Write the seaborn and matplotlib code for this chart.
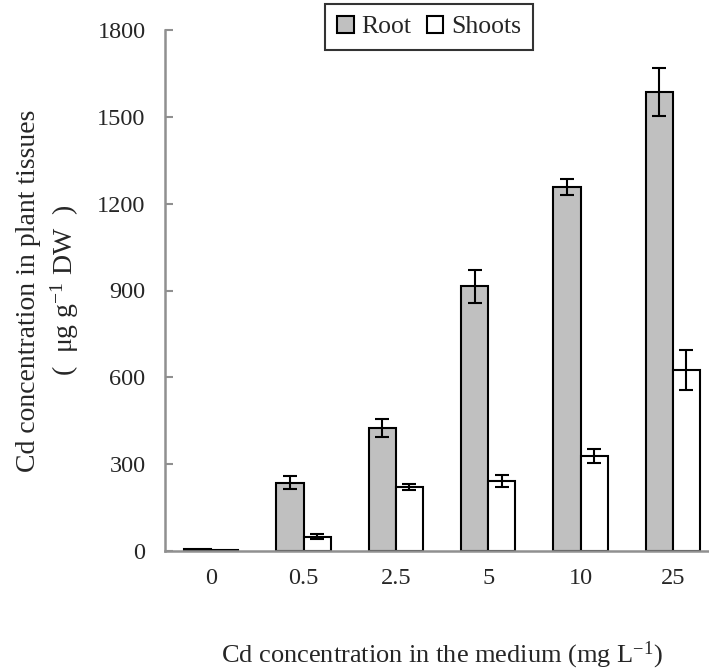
import matplotlib
matplotlib.use("Agg")
import matplotlib.pyplot as plt
import seaborn as sns
import pandas as pd
import numpy as np

categories = ["0", "0.5", "2.5", "5", "10", "25"]
series = ["Root", "Shoots"]
root_values = [8, 236, 425, 915, 1258, 1585]
root_errors = [0, 22, 31, 57, 27, 82]
shoots_values = [2, 50, 220, 243, 327, 625]
shoots_errors = [0, 10, 10, 21, 24, 68]
y_ticks = [0, 300, 600, 900, 1200, 1500, 1800]

df = pd.DataFrame({
    "conc": categories * 2,
    "tissue": [series[0]] * len(categories) + [series[1]] * len(categories),
    "value": root_values + shoots_values,
})
errors = {series[0]: root_errors, series[1]: shoots_errors}

sns.set_theme(style="white")
plt.rcParams['font.family'] = ['Liberation Serif', 'DejaVu Serif']
plt.rcParams['mathtext.fontset'] = 'custom'
plt.rcParams['mathtext.rm'] = 'Liberation Serif'
plt.rcParams['mathtext.default'] = 'regular'

fig = plt.figure(figsize=(7.09, 6.70), dpi=100)
ax = fig.add_axes([165 / 709, 1 - 551 / 670, (719 - 165) / 709, (551 - 30) / 670])

sns.barplot(data=df, x="conc", y="value", hue="tissue", order=categories,
            hue_order=series, palette={"Root": "#C0C0C0", "Shoots": "white"},
            saturation=1, width=0.585, edgecolor="black", linewidth=1.5,
            errorbar=None, ax=ax)

for cont, name in zip(ax.containers, series):
    for bar, err in zip(cont, errors[name]):
        if err <= 0:
            continue
        x = bar.get_x() + bar.get_width() / 2
        ax.errorbar(x, bar.get_height(), yerr=err, fmt="none", ecolor="black",
                    elinewidth=1.5, capsize=5, capthick=1.5, zorder=5)

ax.set_xlim(-0.5, 5.5)
ax.set_ylim(0, 1800)
ax.set_yticks(y_ticks)
ax.set_yticklabels([str(t) for t in y_ticks], fontsize=17.5)

# category boundaries as ticks, labels at category centres
ax.set_xticks(np.arange(0.5, len(categories) - 0.5, 1.0))
ax.set_xticklabels([])
ax.set_xticks(np.arange(len(categories)), minor=True)
ax.set_xticklabels(categories, minor=True, fontsize=17.5)
ax.tick_params(axis="x", which="major", direction="in", length=6, width=1.5,
               color="#909090")
ax.tick_params(axis="x", which="minor", length=0, pad=12)
ax.tick_params(axis="y", direction="in", length=6, width=1.5, color="#909090",
               pad=14, left=True)

for side in ["top", "right"]:
    ax.spines[side].set_visible(False)
for side in ["left", "bottom"]:
    ax.spines[side].set_color("#909090")
    ax.spines[side].set_linewidth(1.8)

ax.set_xlabel("Cd concentration in the medium (mg L$^{-1}$)", fontsize=19,
              labelpad=37)
ax.set_ylabel("Cd concentration in plant tissues\n(  μg g$^{-1}$ DW  )",
              fontsize=20, labelpad=12, linespacing=1.3)

handles, labels = ax.get_legend_handles_labels()
ax.get_legend().remove()
leg = ax.legend(handles, labels, loc="upper center",
                bbox_to_anchor=(429 / 709, 1 - 4 / 670),
                bbox_transform=fig.transFigure, ncol=2, fontsize=18.5,
                frameon=True, fancybox=False, edgecolor="black",
                handlelength=0.65, handleheight=0.65, handletextpad=0.3,
                columnspacing=0.6, borderpad=0.45, borderaxespad=0)
leg.get_frame().set_linewidth(1.5)
for h in leg.legend_handles:
    h.set_edgecolor("black")
    h.set_linewidth(1.5)

fig.savefig("out.png", dpi=100)
